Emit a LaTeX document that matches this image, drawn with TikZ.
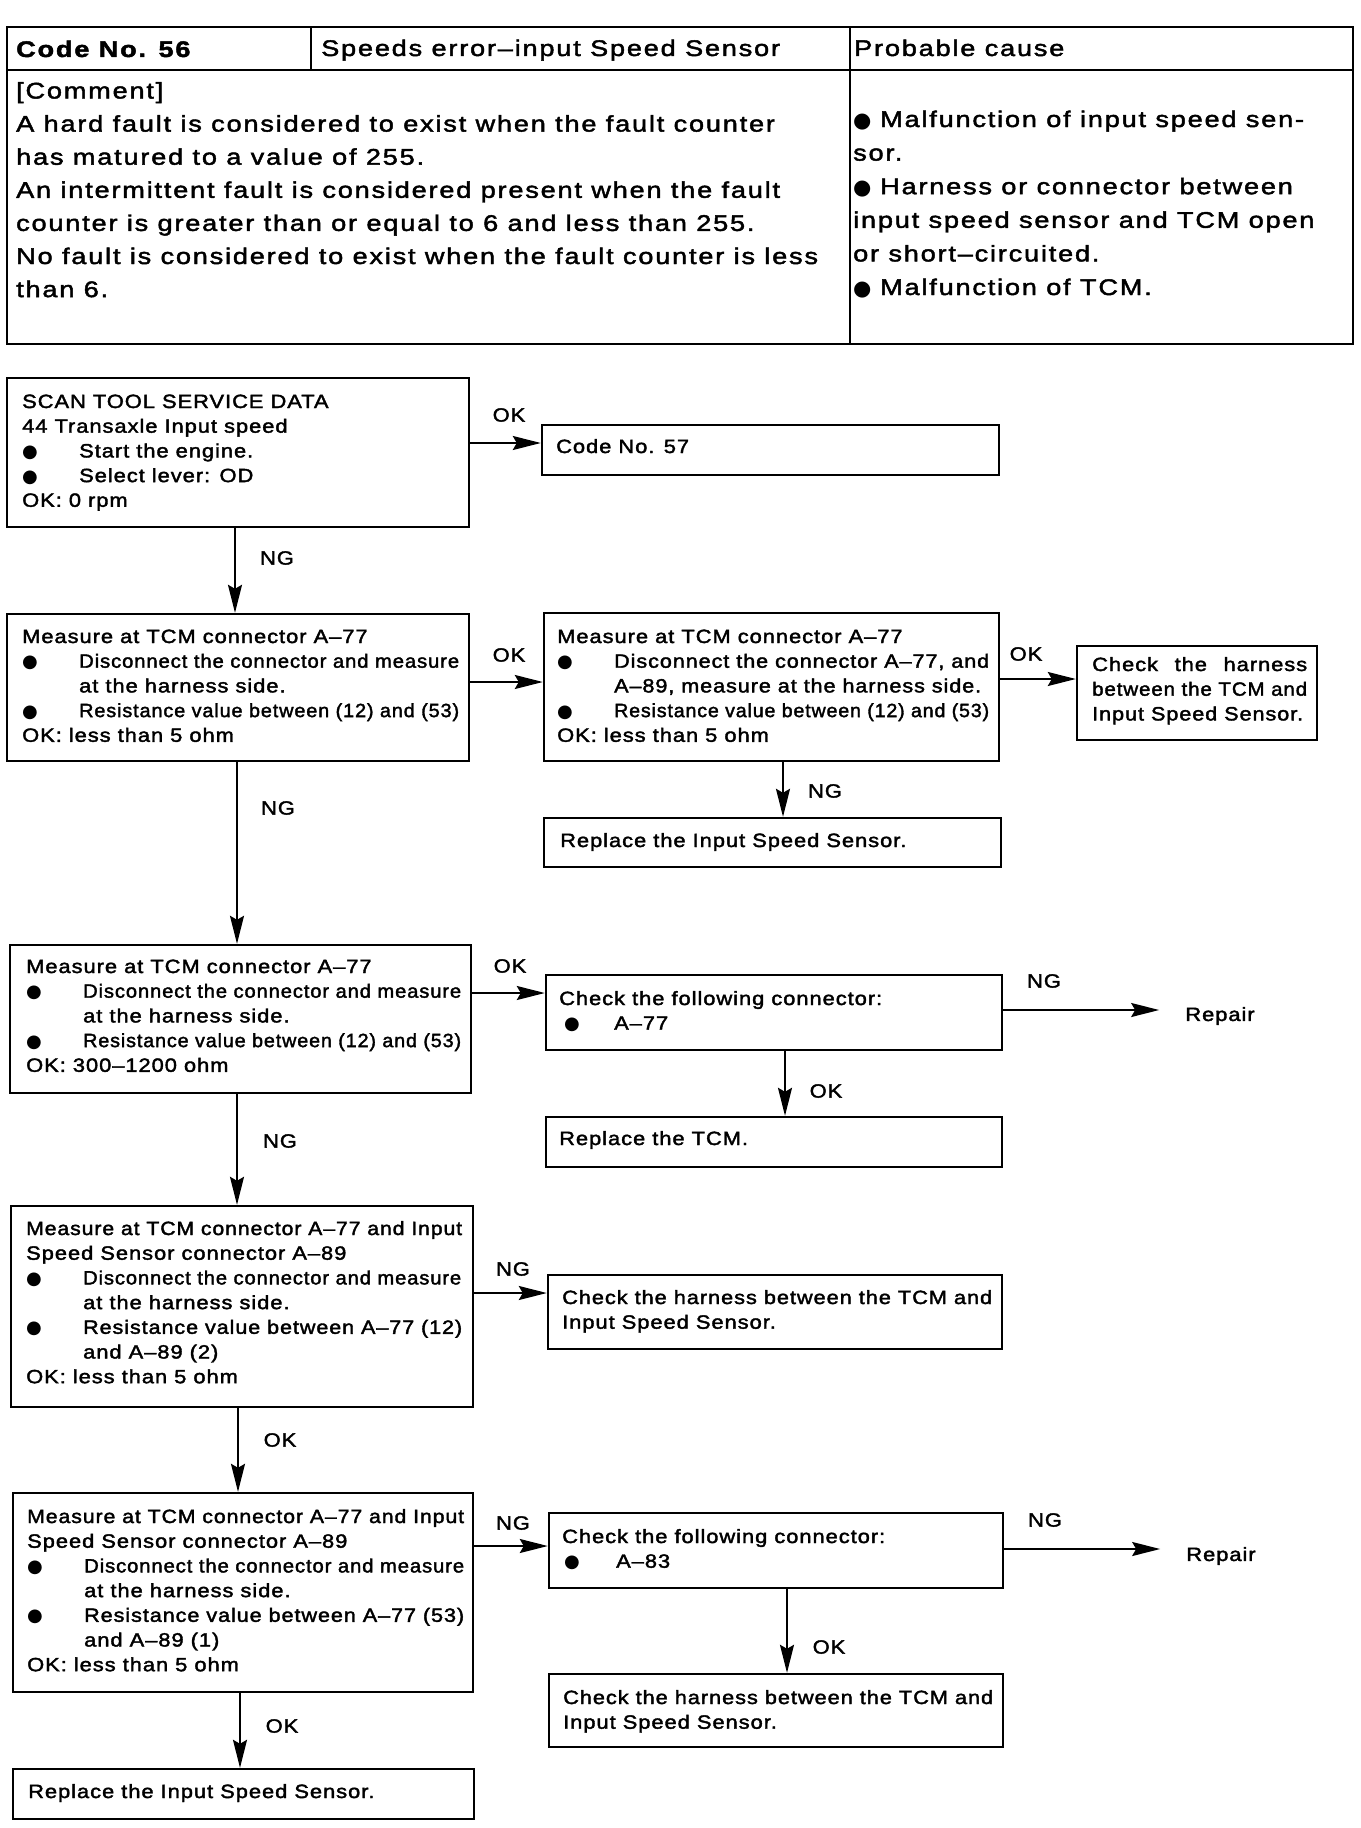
\documentclass[tikz,border=0pt]{standalone}
\usepackage{fontspec}
\usepackage{graphicx}
\setmainfont{Liberation Sans}
\newfontfamily\ff[FakeStretch=1.14,LetterSpace=5,FakeBold=2]{Liberation Sans}
\newfontfamily\hf[FakeStretch=1.2,LetterSpace=8,FakeBold=2]{Liberation Sans}
\newfontfamily\djfont{DejaVu Sans}
\usetikzlibrary{arrows.meta,fit}
\newlength\fitlen
\newcommand\J[2]{\settowidth\fitlen{#2}\ifdim\fitlen>#1\relax\resizebox{#1}{\height}{#2}\else\makebox[#1][s]{#2}\fi}
\newcommand\bul{\makebox[57pt][l]{\djfont\fontsize{18}{18}\selectfont ●}}
\newcommand\ind{\hspace*{57pt}}
\newcommand\hb{\makebox[27pt][l]{\djfont\fontsize{21}{21}\selectfont ●}}
\begin{document}
\begin{tikzpicture}[x=1pt,y=-1pt,
  box/.style={draw, line width=2.4pt, inner sep=0pt},
  txt/.style={anchor=base west, inner sep=0pt, font=\ff\fontsize{19.2}{24.7}\selectfont},
  lbl/.style={inner sep=0pt, font=\ff\fontsize{19.2}{24.7}\selectfont},
  htxt/.style={anchor=base west, inner sep=0pt, font=\hf\fontsize{22.6}{33.1}\selectfont},
  tab/.style={line width=2.6pt},
  arr/.style={line width=2pt, -{Stealth[length=28pt,width=14pt,inset=4pt]}}]
\fill[white] (0,0) rectangle (1360,1828);
\useasboundingbox (0,0) rectangle (1360,1828);

% header table
\draw[tab] (7,27) rectangle (1353,344);
\draw[tab] (7,70) -- (1353,70);
\draw[tab] (311,27) -- (311,70);
\draw[tab] (850,27) -- (850,344);
\node[htxt] (hcode) at (16,57) {\bfseries Code No. 56};
\node[htxt] (htitle) at (321,56) {Speeds error–input Speed Sensor};
\node[htxt] (hcause) at (854,56) {Probable cause};
\node[htxt] (hcomment) at (16,98.5) {\begin{tabular}[t]{@{}l@{}}{[Comment]}\\
A hard fault is considered to exist when the fault counter\\
has matured to a value of 255.\\
An intermittent fault is considered present when the fault\\
counter is greater than or equal to 6 and less than 255.\\
No fault is considered to exist when the fault counter is less\\
than 6.\end{tabular}};
\node[htxt, font=\hf\fontsize{22.6}{33.6}\selectfont] (hcauses) at (853,127) {\begin{tabular}[t]{@{}l@{}}\hb Malfunction of input speed sen-\\
sor.\\
\hb Harness or connector between\\
input speed sensor and TCM open\\
or short–circuited.\\
\hb Malfunction of TCM.\end{tabular}};

% boxes
\node[box, fit={(7,378) (469,527)}] (b1) {};
\node[box, fit={(542,425) (999,475)}] (c57) {};
\node[box, fit={(7,614) (469,761)}] (b2) {};
\node[box, fit={(544,613) (999,761)}] (b3) {};
\node[box, fit={(1077,646) (1317,740)}] (h1) {};
\node[box, fit={(544,818) (1001,867)}] (r1) {};
\node[box, fit={(10,945) (471,1093)}] (b4) {};
\node[box, fit={(546,975) (1002,1050)}] (k1) {};
\node[box, fit={(546,1117) (1002,1167)}] (t1) {};
\node[box, fit={(11,1206) (473,1407)}] (b5) {};
\node[box, fit={(548,1275) (1002,1349)}] (h2) {};
\node[box, fit={(13,1493) (473,1692)}] (b6) {};
\node[box, fit={(549,1513) (1003,1588)}] (k2) {};
\node[box, fit={(549,1674) (1003,1747)}] (h3) {};
\node[box, fit={(13,1769) (474,1819)}] (r2) {};

% box texts
\node[txt] (tb1) at (22,408) {\begin{tabular}[t]{@{}l@{}}SCAN TOOL SERVICE DATA\\
44 Transaxle Input speed\\
\bul Start the engine.\\
\bul Select lever: OD\\
OK: 0 rpm\end{tabular}};
\node[txt] (tc57) at (556,453) {Code No. 57};
\node[txt] (tb2) at (22,643) {\begin{tabular}[t]{@{}l@{}}Measure at TCM connector A–77\\
\bul\J{380pt}{Disconnect the connector and measure}\\
\ind at the harness side.\\
\bul\J{380pt}{Resistance value between (12) and (53)}\\
OK: less than 5 ohm\end{tabular}};
\node[txt] (tb3) at (557,643) {\begin{tabular}[t]{@{}l@{}}Measure at TCM connector A–77\\
\bul\J{375pt}{Disconnect the connector A–77, and}\\
\ind\J{367pt}{A–89, measure at the harness side.}\\
\bul\J{375pt}{Resistance value between (12) and (53)}\\
OK: less than 5 ohm\end{tabular}};
\node[txt] (th1) at (1092,671) {\begin{tabular}[t]{@{}l@{}}\J{215pt}{Check the harness}\\
\J{215pt}{between the TCM and}\\
\J{211pt}{Input Speed Sensor.}\end{tabular}};
\node[txt] (tr1) at (560,847) {Replace the Input Speed Sensor.};
\node[txt] (tb4) at (26,973) {\begin{tabular}[t]{@{}l@{}}Measure at TCM connector A–77\\
\bul\J{378pt}{Disconnect the connector and measure}\\
\ind at the harness side.\\
\bul\J{378pt}{Resistance value between (12) and (53)}\\
OK: 300–1200 ohm\end{tabular}};
\node[txt] (tk1) at (559,1005) {\begin{tabular}[t]{@{}l@{}}Check the following connector:\\
\hspace*{5pt}\makebox[50pt][l]{\djfont\fontsize{18}{18}\selectfont ●}A–77\end{tabular}};
\node[txt] (tt1) at (559,1145) {Replace the TCM.};
\node[txt] (tb5) at (26,1235) {\begin{tabular}[t]{@{}l@{}}\J{436pt}{Measure at TCM connector A–77 and Input}\\
Speed Sensor connector A–89\\
\bul\J{378pt}{Disconnect the connector and measure}\\
\ind at the harness side.\\
\bul\J{379pt}{Resistance value between A–77 (12)}\\
\ind and A–89 (2)\\
OK: less than 5 ohm\end{tabular}};
\node[txt] (th2) at (562,1304) {\begin{tabular}[t]{@{}l@{}}\J{430pt}{Check the harness between the TCM and}\\
Input Speed Sensor.\end{tabular}};
\node[txt] (tb6) at (27,1523) {\begin{tabular}[t]{@{}l@{}}\J{437pt}{Measure at TCM connector A–77 and Input}\\
Speed Sensor connector A–89\\
\bul\J{380pt}{Disconnect the connector and measure}\\
\ind at the harness side.\\
\bul\J{380pt}{Resistance value between A–77 (53)}\\
\ind and A–89 (1)\\
OK: less than 5 ohm\end{tabular}};
\node[txt] (tk2) at (562,1543) {\begin{tabular}[t]{@{}l@{}}Check the following connector:\\
\hspace*{2pt}\makebox[52pt][l]{\djfont\fontsize{18}{18}\selectfont ●}A–83\end{tabular}};
\node[txt] (th3) at (563,1704) {\begin{tabular}[t]{@{}l@{}}\J{430pt}{Check the harness between the TCM and}\\
Input Speed Sensor.\end{tabular}};
\node[txt] (tr2) at (28,1798) {Replace the Input Speed Sensor.};

% repair nodes
\node[lbl] (rep1) at (1220,1016) {Repair};
\node[lbl] (rep2) at (1221,1556) {Repair};

% connectors
\draw[arr] (b1.east |- 0,443) -- (c57.west |- 0,443);
\draw[arr] (b1.south -| 235,0) -- (b2.north -| 235,0);
\draw[arr] (b2.east |- 0,682) -- (b3.west |- 0,682);
\draw[arr] (b3.east |- 0,679) -- (h1.west |- 0,679);
\draw[arr] (b3.south -| 783,0) -- (r1.north -| 783,0);
\draw[arr] (b2.south -| 237,0) -- (b4.north -| 237,0);
\draw[arr] (b4.east |- 0,993) -- (k1.west |- 0,993);
\draw[arr, shorten >=26pt] (k1.east |- 0,1010) -- (rep1.west |- 0,1010);
\draw[arr] (k1.south -| 785,0) -- (t1.north -| 785,0);
\draw[arr] (b4.south -| 237,0) -- (b5.north -| 237,0);
\draw[arr] (b5.east |- 0,1293) -- (h2.west |- 0,1293);
\draw[arr] (b5.south -| 238,0) -- (b6.north -| 238,0);
\draw[arr] (b6.east |- 0,1546) -- (k2.west |- 0,1546);
\draw[arr, shorten >=26pt] (k2.east |- 0,1549) -- (rep2.west |- 0,1549);
\draw[arr] (k2.south -| 787,0) -- (h3.north -| 787,0);
\draw[arr] (b6.south -| 240,0) -- (r2.north -| 240,0);

% connector labels
\node[lbl] (l1) at (509,415) {OK};
\node[lbl] (l2) at (277,558) {NG};
\node[lbl] (l3) at (509,655) {OK};
\node[lbl] (l4) at (1026,654) {OK};
\node[lbl] (l5) at (825,791) {NG};
\node[lbl] (l6) at (278,808) {NG};
\node[lbl] (l7) at (510,966) {OK};
\node[lbl] (l8) at (1044,981) {NG};
\node[lbl] (l9) at (826,1091) {OK};
\node[lbl] (l10) at (280,1141) {NG};
\node[lbl] (l11) at (513,1269) {NG};
\node[lbl] (l12) at (280,1440) {OK};
\node[lbl] (l13) at (513,1523) {NG};
\node[lbl] (l14) at (1045,1520) {NG};
\node[lbl] (l15) at (829,1647) {OK};
\node[lbl] (l16) at (282,1726) {OK};
\end{tikzpicture}
\end{document}
